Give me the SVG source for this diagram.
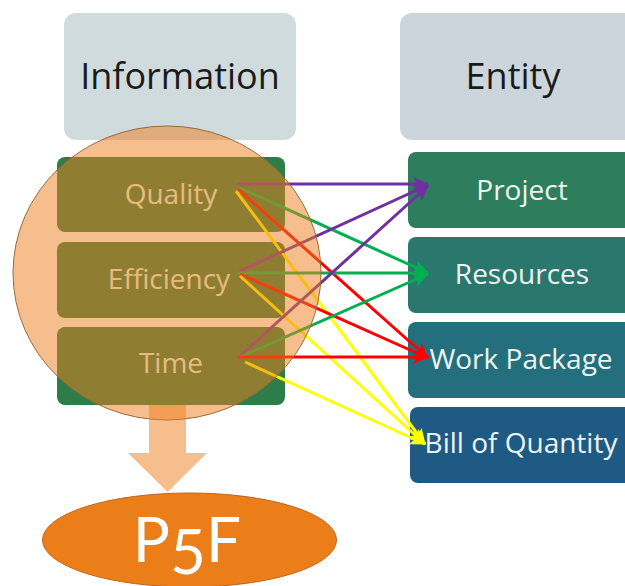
<svg xmlns="http://www.w3.org/2000/svg" width="625" height="586" viewBox="0 0 625 586">
<style>
  .hdr { fill: #D0DBDE; }
  .hdrtxt { font-family: "Open Sans", Lato, sans-serif; font-size: 36px; fill: #1a1a1a; text-anchor: middle; }
  .lbox { fill: #2E7D48; }
  .ltxt { font-family: "Open Sans", Lato, sans-serif; font-size: 28px; fill: #E2F4E0; text-anchor: middle; }
  .rtxt { font-family: "Open Sans", Lato, sans-serif; font-size: 28px; fill: #EEF4F2; text-anchor: middle; }
  .conn { fill: none; stroke-width: 3; }
  .overlay { fill: #F07E1C; fill-opacity: 0.5; }
</style>
<defs>
  <marker id="mP" viewBox="0 0 16 14" refX="15" refY="7" markerUnits="userSpaceOnUse" markerWidth="16" markerHeight="14" orient="auto"><path d="M0,0 L16,7 L0,14 L4,7 z" fill="#7030A0"/></marker>
  <marker id="mG" viewBox="0 0 16 14" refX="15" refY="7" markerUnits="userSpaceOnUse" markerWidth="16" markerHeight="14" orient="auto"><path d="M0,0 L16,7 L0,14 L4,7 z" fill="#00B050"/></marker>
  <marker id="mR" viewBox="0 0 16 14" refX="15" refY="7" markerUnits="userSpaceOnUse" markerWidth="16" markerHeight="14" orient="auto"><path d="M0,0 L16,7 L0,14 L4,7 z" fill="#FF0000"/></marker>
  <marker id="mY" viewBox="0 0 16 14" refX="15" refY="7" markerUnits="userSpaceOnUse" markerWidth="16" markerHeight="14" orient="auto"><path d="M0,0 L16,7 L0,14 L4,7 z" fill="#FFFF00"/></marker>
</defs>
<rect width="625" height="586" fill="#FFFFFF"/>

<g id="information-header">
  <rect class="hdr" x="64" y="13" width="232" height="127" rx="12"/>
  <text class="hdrtxt" x="180" y="89">Information</text>
</g>
<g id="entity-header">
  <rect x="400" y="13" width="240" height="127" rx="12" fill="#CDD5DC"/>
  <text class="hdrtxt" x="513" y="89">Entity</text>
</g>

<g id="quality">
  <rect class="lbox" x="57" y="157" width="228" height="75" rx="8"/>
  <text class="ltxt" x="171" y="204">Quality</text>
</g>
<g id="efficiency">
  <rect class="lbox" x="57" y="242" width="228" height="76" rx="8"/>
  <text class="ltxt" x="169" y="289">Efficiency</text>
</g>
<g id="time">
  <rect class="lbox" x="57" y="327" width="228" height="78" rx="8"/>
  <text class="ltxt" x="171" y="373">Time</text>
</g>

<g id="project">
  <rect x="408" y="152" width="230" height="76" rx="8" fill="#2E7D5C"/>
  <text class="rtxt" x="522" y="200">Project</text>
</g>
<g id="resources">
  <rect x="408" y="237" width="230" height="76" rx="8" fill="#2A776E"/>
  <text class="rtxt" x="522" y="284">Resources</text>
</g>
<g id="work-package">
  <rect x="408" y="322" width="230" height="76" rx="8" fill="#236F7D"/>
  <text class="rtxt" x="521" y="369">Work Package</text>
</g>
<g id="bill-of-quantity">
  <rect x="410" y="407" width="230" height="76" rx="8" fill="#1E5A84"/>
  <text class="rtxt" x="521" y="453">Bill of Quantity</text>
</g>

<g id="connectors">
  <line class="conn" stroke="#7030A0" marker-end="url(#mP)" x1="237" y1="184" x2="428" y2="184"/>
  <line class="conn" stroke="#00B050" marker-end="url(#mG)" x1="238" y1="187" x2="428" y2="273"/>
  <line class="conn" stroke="#FF0000" marker-end="url(#mR)" x1="238" y1="189" x2="428" y2="358"/>
  <line class="conn" stroke="#FFFF00" marker-end="url(#mY)" x1="236" y1="191" x2="425" y2="444"/>

  <line class="conn" stroke="#7030A0" marker-end="url(#mP)" x1="238" y1="272" x2="428" y2="185"/>
  <line class="conn" stroke="#00B050" marker-end="url(#mG)" x1="238" y1="273" x2="428" y2="273"/>
  <line class="conn" stroke="#FF0000" marker-end="url(#mR)" x1="240" y1="274" x2="428" y2="358"/>
  <line class="conn" stroke="#FFFF00" marker-end="url(#mY)" x1="240" y1="276" x2="425" y2="444"/>

  <line class="conn" stroke="#7030A0" marker-end="url(#mP)" x1="240" y1="356" x2="428" y2="186"/>
  <line class="conn" stroke="#00B050" marker-end="url(#mG)" x1="240" y1="357" x2="428" y2="274"/>
  <line class="conn" stroke="#FF0000" marker-end="url(#mR)" x1="238" y1="357" x2="428" y2="357"/>
  <line class="conn" stroke="#FFFF00" marker-end="url(#mY)" x1="245" y1="362" x2="425" y2="444"/>
</g>

<g id="overlay-circle">
  <ellipse class="overlay" cx="167" cy="273" rx="154" ry="147" stroke="#9A6A3A" stroke-width="1"/>
</g>
<g id="down-arrow">
  <polygon class="overlay" points="149,405 186,405 186,453 207,453 167.5,492 128,453 149,453"/>
</g>
<g id="p5f">
  <ellipse cx="189.5" cy="540" rx="147" ry="47" fill="#EC7E1A" stroke="#C0651A" stroke-width="1"/>
  <text x="187" y="562" font-family="Lato, 'Open Sans', sans-serif" font-size="62" fill="#FFFFFF" text-anchor="middle">P<tspan dy="12">5</tspan><tspan dy="-12">F</tspan></text>
</g>
</svg>
